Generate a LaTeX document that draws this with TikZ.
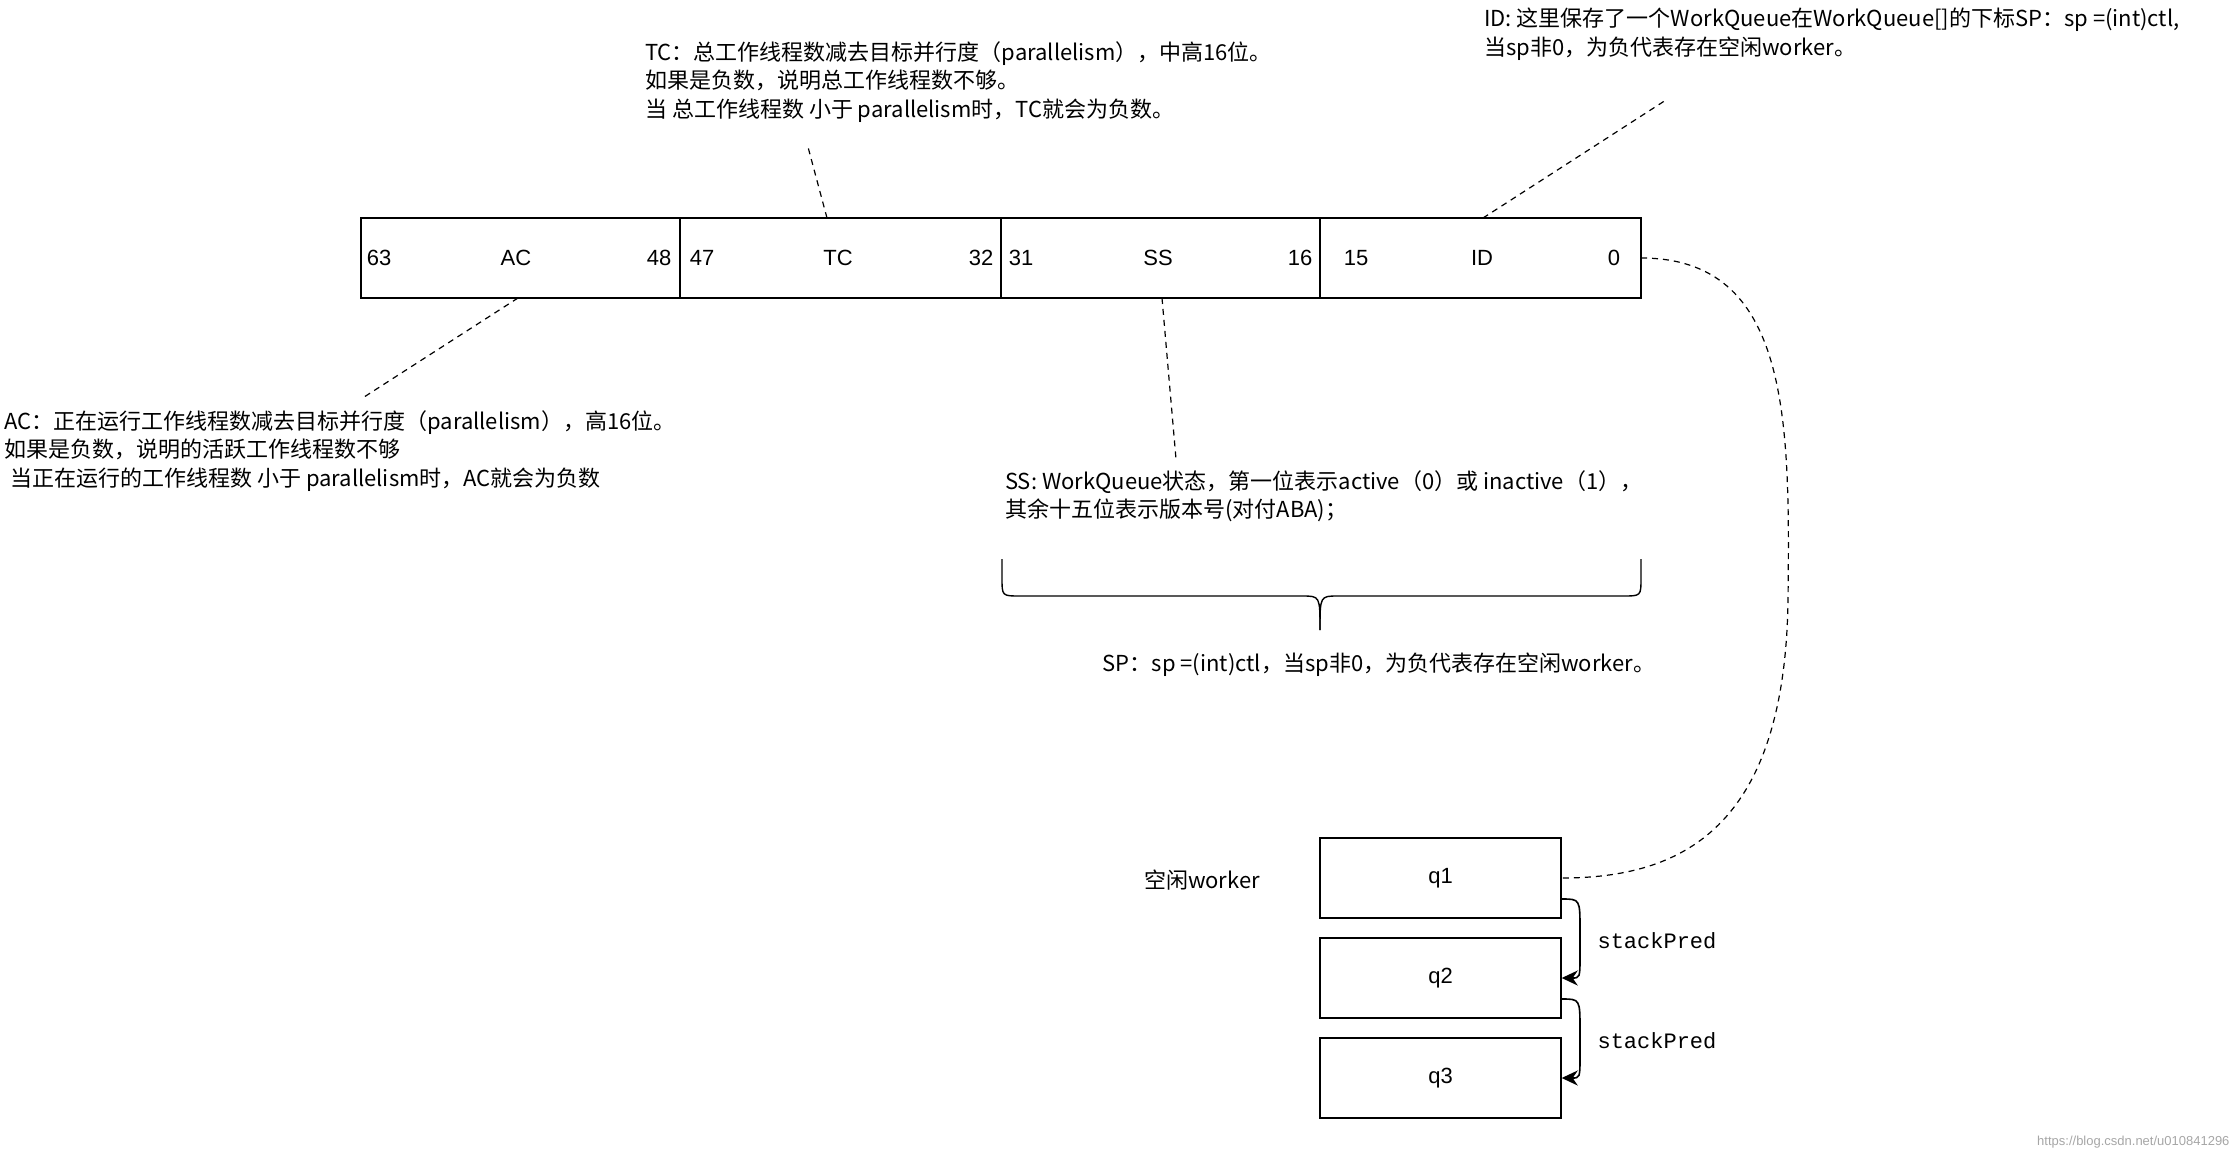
\documentclass[tikz,border=0pt]{standalone}
\usepackage{fontspec}
\setmainfont{Liberation Sans}
\newfontfamily\cjk{Noto Sans CJK SC}
\setmonofont{Liberation Mono}
\usetikzlibrary{arrows.meta,decorations.pathreplacing}
\begin{document}
\begin{tikzpicture}[x=1pt,y=-1pt,
  txt/.style={font=\fontsize{22}{28}\selectfont},
  note/.style={font=\cjk\fontsize{22}{28.5}\selectfont,align=left,anchor=north west,inner sep=0},
  cell/.style={draw,line width=1.4pt,minimum height=80pt,inner sep=0},
  qbox/.style={draw,line width=1.4pt,minimum width=241pt,minimum height=80pt,font=\fontsize{22}{28}\selectfont},
  dsh/.style={dashed,line width=1.2pt,dash pattern=on 6pt off 5pt},
  sp/.style={line width=1.6pt,-{Stealth[length=16pt,width=15pt,inset=5pt]}}]
\useasboundingbox (0,0) rectangle (2236,1156);
% bar
\draw[line width=1.4pt] (361,218) rectangle (1641,298);
\foreach \x in {680,1001,1320} \draw[line width=1.4pt] (\x,218)--(\x,298);
\node[txt] (n63) at (379,258) {63};
\node[txt] (ac) at (516,258) {AC};
\node[txt] (n48) at (659,258) {48};
\node[txt] (n47) at (702,258) {47};
\node[txt] (tc) at (838,258) {TC};
\node[txt] (n32) at (981,258) {32};
\node[txt] (n31) at (1021,258) {31};
\node[txt] (ss) at (1158,258) {SS};
\node[txt] (n16) at (1300,258) {16};
\node[txt] (n15) at (1356,258) {15};
\node[txt] (id) at (1482,258) {ID};
\node[txt] (n0) at (1614,258) {0};
\coordinate (barR) at (1641,258);
\coordinate (tcTop) at (827,218);
\coordinate (idTop) at (1483,218);
\coordinate (acBot) at (518,298);
\coordinate (ssBot) at (1162,298);
% notes
\node[note] (tcn) at (645,41) {TC：总工作线程数减去目标并行度（parallelism），中高16位。\\如果是负数，说明总工作线程数不够。\\当 总工作线程数 小于 parallelism时，TC就会为负数。};
\node[note] (idn) at (1484,8) {ID: 这里保存了一个WorkQueue在WorkQueue[]的下标SP：sp =(int)ctl,\\当sp非0，为负代表存在空闲worker。};
\node[note] (acn) at (4,410) {AC：正在运行工作线程数减去目标并行度（parallelism），高16位。\\如果是负数，说明的活跃工作线程数不够\\\hspace*{6pt}当正在运行的工作线程数 小于 parallelism时，AC就会为负数};
\node[note] (ssn) at (1005,470) {SS: WorkQueue状态，第一位表示active（0）或 inactive（1），\\其余十五位表示版本号(对付ABA)；};
\node[note,anchor=center] (spn) at (1379,665) {SP：sp =(int)ctl，当sp非0，为负代表存在空闲worker。};
\coordinate (tcEnd) at (808,147);
\coordinate (idEnd) at (1666,100);
\coordinate (acEnd) at (361,399);
\coordinate (ssEnd) at (1176,459);
\draw[dsh] (tcTop)--(tcEnd);
\draw[dsh] (idTop)--(idEnd);
\draw[dsh] (acBot)--(acEnd);
\draw[dsh] (ssBot)--(ssEnd);
% brace
\coordinate (bl) at (1002,559);
\coordinate (br) at (1641,559);
\draw[line width=1.4pt] (bl) -- (1002,578) .. controls (1002,596) .. (1020,596) -- (1302,596) .. controls (1320,596) .. (1320,630);
\draw[line width=1.4pt] (br) -- (1641,578) .. controls (1641,596) .. (1623,596) -- (1338,596) .. controls (1320,596) .. (1320,630);
% queue
\node[note,anchor=center] (idle) at (1202,880) {空闲worker};
\node[qbox] (q1) at (1440.5,878) {q1};
\node[qbox] (q2) at (1440.5,978) {q2};
\node[qbox] (q3) at (1440.5,1078) {q3};
\draw[dsh] (barR) .. controls (1790,258) and (1790,420) .. (1788,600) .. controls (1785,830) and (1680,878) .. (q1.east);
\draw[sp] ([yshift=-21pt]q1.east) .. controls (1580,899) .. (1580,930) -- (1580,955) .. controls (1580,978) .. (q2.east);
\draw[sp] ([yshift=-21pt]q2.east) .. controls (1580,999) .. (1580,1030) -- (1580,1055) .. controls (1580,1078) .. (q3.east);
\node[font=\ttfamily\fontsize{22}{28}\selectfont,anchor=west] (l1) at (1594,941) {stackPred};
\node[font=\ttfamily\fontsize{22}{28}\selectfont,anchor=west] (l2) at (1594,1041) {stackPred};
\node[font=\fontsize{13}{16}\selectfont,text=black!35,anchor=south east] (wm) at (2233,1152) {https://blog.csdn.net/u010841296};
\end{tikzpicture}
\end{document}
